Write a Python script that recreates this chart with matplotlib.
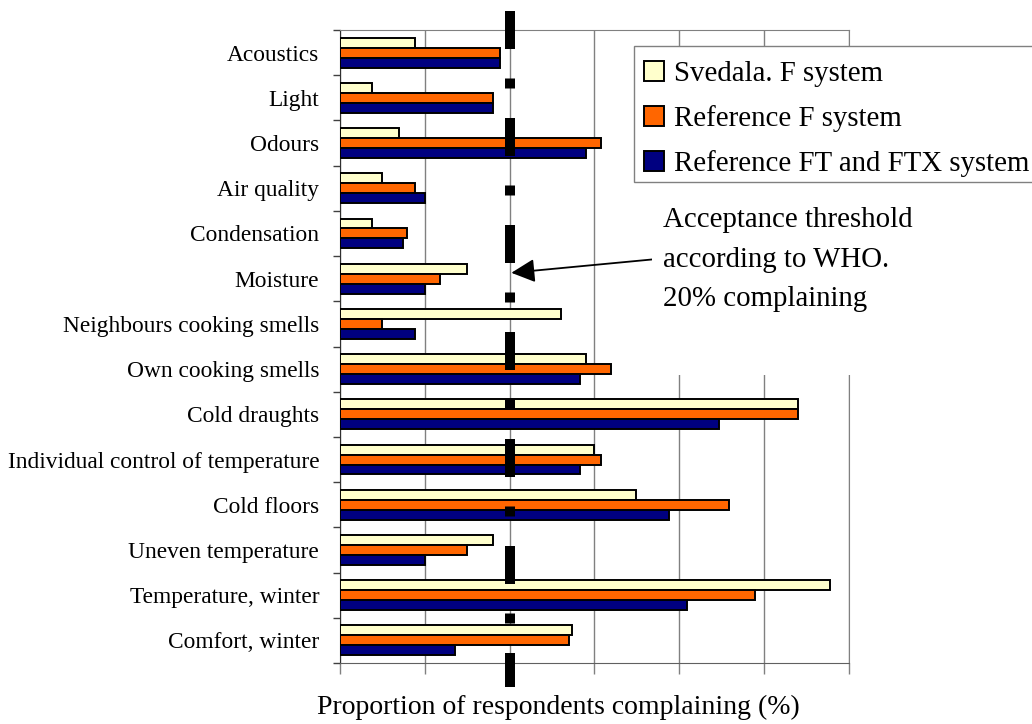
import numpy as np
import matplotlib
matplotlib.use("Agg")
import matplotlib.pyplot as plt
from matplotlib.patches import Rectangle

plt.rcParams['font.family'] = ['Liberation Serif', 'DejaVu Serif']

categories = ["Acoustics", "Light", "Odours", "Air quality", "Condensation",
              "Moisture", "Neighbours cooking smells", "Own cooking smells",
              "Cold draughts", "Individual control of temperature",
              "Cold floors", "Uneven temperature", "Temperature, winter",
              "Comfort, winter"]
svedala = [8.8, 3.8, 6.9, 4.9, 3.8, 15.0, 26.0, 29.0, 54.0, 29.9, 34.9, 18.0, 57.8, 27.4]
ref_f = [18.9, 18.0, 30.8, 8.8, 7.9, 11.8, 4.9, 32.0, 54.0, 30.8, 45.9, 15.0, 48.9, 27.0]
ref_ftx = [18.9, 18.0, 29.0, 10.0, 7.4, 10.0, 8.8, 28.3, 44.7, 28.3, 38.8, 10.0, 40.9, 13.6]
series_names = ["Svedala. F system", "Reference F system", "Reference FT and FTX system"]
series_colors = ["#FFFFCC", "#FF6600", "#000080"]
threshold = 20
x_ticks = [0, 10, 20, 30, 40, 50, 60]

W, H = 1032, 724
fig = plt.figure(figsize=(W / 100, H / 100), dpi=100)
ax = fig.add_axes([340 / W, 1 - 663 / H, 509 / W, 633 / H])

y = np.arange(len(categories))
bh = 0.22
for k, (vals, name, col) in enumerate(zip([svedala, ref_f, ref_ftx], series_names, series_colors)):
    ax.barh(y + (k - 1) * bh, vals, height=bh, color=col, edgecolor='black',
            linewidth=1.4, label=name, zorder=3)

ax.set_xlim(0, 60)
ax.set_ylim(len(categories) - 0.5, -0.5)
ax.set_xticks(x_ticks)
ax.set_xticklabels([])
ax.tick_params(axis='x', direction='out', length=8, width=1, color='#808080')
ax.grid(axis='x', color='#808080', linewidth=1, zorder=0)
ax.set_axisbelow(True)

ax.set_yticks(y)
ax.set_yticklabels(categories, fontsize=16.8)
ax.set_yticks(np.arange(len(categories) + 1) - 0.5, minor=True)
ax.tick_params(axis='y', which='major', length=0, pad=15)
ax.tick_params(axis='y', which='minor', direction='out', length=5, width=1, color='#404040')

for s in ['top', 'right']:
    ax.spines[s].set_color('#808080')
ax.spines['left'].set_color('#303030')
ax.spines['bottom'].set_color('#606060')

ax.set_xlabel("Proportion of respondents complaining (%)", fontsize=20)
ax.xaxis.set_label_coords(0.429, -0.05)

# WHO threshold, dash-dot
ax.plot([threshold, threshold], [-0.92, 14.03], color='black', linewidth=7.2,
        dashes=(3.8, 2.95, 1.0, 2.95), clip_on=False, zorder=5)

# white patch behind the note
fig.patches.append(Rectangle((652 / W, 1 - 375 / H), (W - 652) / W, (375 - 183) / H,
                             transform=fig.transFigure, facecolor='white',
                             edgecolor='none', zorder=2))

fig.text(663 / W, 1 - 207 / H, "Acceptance threshold\naccording to WHO.\n20% complaining",
         fontsize=20.8, va='top', ha='left', linespacing=1.68, zorder=6)
ax.annotate("", xy=(threshold + 0.2, 4.87), xycoords='data',
            xytext=(657, H - 259), textcoords='figure pixels',
            arrowprops=dict(arrowstyle='-|>', color='black', lw=1.3,
                            mutation_scale=36, shrinkA=0, shrinkB=0),
            zorder=6)

# legend frame runs off the right edge, drawn by hand
fig.patches.append(Rectangle((634 / W, 1 - 182 / H), 420 / W, 136 / H,
                             transform=fig.transFigure, facecolor='white',
                             edgecolor='#808080', linewidth=1, zorder=6))
leg = fig.legend(loc='upper left', bbox_to_anchor=(634 / W, 1 - 51 / H),
                 bbox_transform=fig.transFigure, borderaxespad=0,
                 fontsize=20.8, handlelength=0.7, handleheight=0.7, handletextpad=0.35,
                 labelspacing=0.62, borderpad=0.35, frameon=False)
leg.set_zorder(7)

fig.savefig("out.png", dpi=100)
